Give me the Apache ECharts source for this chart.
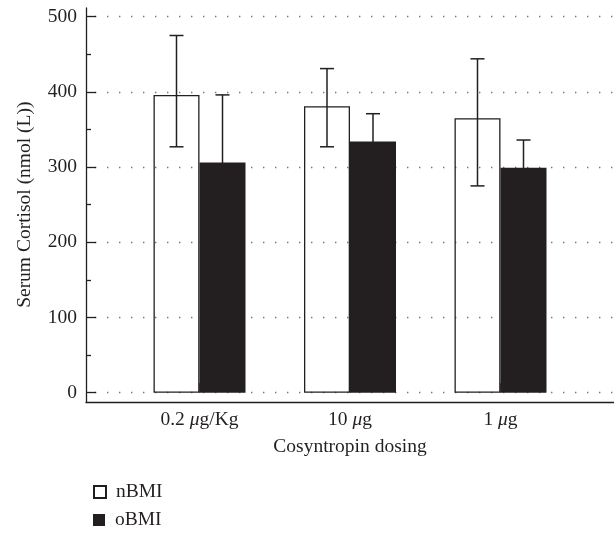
<!DOCTYPE html>
<html>
<head>
<meta charset="utf-8">
<script src="https://cdn.jsdelivr.net/npm/echarts@6/dist/echarts.min.js"></script>
<style>
html,body{margin:0;padding:0;background:#fff;}
#main{width:614px;height:533px;}
</style>
</head>
<body>
<div id="main"></div>
<script>
// ---- data ----
const categories = ['0.2 \u03bcg/Kg', '10 \u03bcg', '1 \u03bcg'];
const seriesNames = ['nBMI', 'oBMI'];
const nBMI = [396, 381, 365];
const nBMIHigh = [475, 431, 444];
const nBMILow = [327, 327, 275];
const oBMI = [306, 334, 299];
const oBMIHigh = [396, 371, 336];
const oBMILow = [216, 297, 262];
const yTicks = [0, 100, 200, 300, 400, 500];

// ---- style ----
const INK = '#231f20';
const FONT = '"Liberation Serif", "DejaVu Serif", serif';
const FS = 19.5;
const BAR_W = 46;

const chart = echarts.init(document.getElementById('main'), null, {renderer: 'canvas'});

function errorSeries(name, high, low, sign) {
  return {
    type: 'custom',
    name: name + ' error',
    xAxisIndex: 2, yAxisIndex: 2,
    z: 10,
    silent: true,
    data: categories.map((c, i) => [i, low[i], high[i]]),
    renderItem: function (params, api) {
      const idx = api.value(0);
      const top = api.coord([idx, api.value(2)]);
      const bot = api.coord([idx, api.value(1)]);
      const x = top[0] + sign * BAR_W / 2;
      const cap = 7;
      const st = {stroke: INK, lineWidth: 1.5, fill: null};
      return {
        type: 'group',
        children: [
          {type: 'line', shape: {x1: x, y1: top[1], x2: x, y2: bot[1]}, style: st},
          {type: 'line', shape: {x1: x - cap, y1: top[1], x2: x + cap, y2: top[1]}, style: st},
          {type: 'line', shape: {x1: x - cap, y1: bot[1], x2: x + cap, y2: bot[1]}, style: st}
        ]
      };
    }
  };
}

function muLabel(v) {
  // italicise the Greek mu
  return String(v).split('\u03bc').join('{mu|\u03bc}');
}

function legendFor(name, top) {
  return {
    orient: 'vertical',
    left: 93,
    top: top,
    padding: 0,
    itemWidth: 12,
    itemHeight: 12,
    icon: 'rect',
    data: [name],
    textStyle: {fontFamily: FONT, fontSize: FS, color: INK, padding: [0, 0, 0, 5]}
  };
}

const option = {
  backgroundColor: '#fff',
  animation: false,
  textStyle: {fontFamily: FONT, color: INK},
  grid: [
    {left: 86, right: 0, top: 8, bottom: 131},
    {left: 86, right: 0, top: 16.7, bottom: 140.3},
    {left: 124.25, width: 451.5, top: 16.7, bottom: 140.3}
  ],
  legend: [legendFor(seriesNames[0], 482), legendFor(seriesNames[1], 510)],
  xAxis: [
    {gridIndex: 0, type: 'value', min: 0, max: 1,
     axisLine: {show: true, lineStyle: {color: INK, width: 1.3}},
     axisTick: {show: false}, axisLabel: {show: false}, splitLine: {show: false}},
    {gridIndex: 1, type: 'value', min: 0, max: 1, show: false},
    {gridIndex: 2, type: 'category', data: categories, offset: 9.6,
     axisLine: {show: false},
     axisTick: {show: true, inside: true, length: 9.6, alignWithLabel: true, lineStyle: {color: '#555', width: 1.3}},
     axisLabel: {fontFamily: FONT, fontSize: FS, color: INK, margin: 8, interval: 0,
                 formatter: muLabel,
                 rich: {mu: {fontFamily: FONT, fontSize: FS, fontStyle: 'italic', color: INK}}},
     name: 'Cosyntropin dosing', nameLocation: 'middle', nameGap: 35,
     nameTextStyle: {fontFamily: FONT, fontSize: FS, color: INK},
     splitLine: {show: false}}
  ],
  yAxis: [
    {gridIndex: 0, type: 'value', min: 0, max: 1,
     axisLine: {show: true, lineStyle: {color: INK, width: 1.3}},
     axisTick: {show: false}, axisLabel: {show: false}, splitLine: {show: false}},
    {gridIndex: 1, type: 'value', min: yTicks[0], max: yTicks[yTicks.length - 1], interval: 100,
     axisLine: {show: false},
     axisTick: {show: true, inside: true, length: 10, lineStyle: {color: INK, width: 1.3}},
     minorTick: {show: true, splitNumber: 2, length: 5, lineStyle: {color: INK, width: 1.3}},
     axisLabel: {fontFamily: FONT, fontSize: FS, color: INK, margin: 9},
     splitLine: {show: true, lineStyle: {color: '#777', width: 1.4, type: [1.4, 10.6], dashOffset: 3}},
     name: 'Serum Cortisol (nmol (L))', nameLocation: 'middle', nameGap: 51,
     nameTextStyle: {fontFamily: FONT, fontSize: FS, color: INK}},
    {gridIndex: 2, type: 'value', min: yTicks[0], max: yTicks[yTicks.length - 1], show: false}
  ],
  series: [
    {name: seriesNames[0], type: 'bar', xAxisIndex: 2, yAxisIndex: 2, data: nBMI,
     barWidth: BAR_W, barGap: '0%',
     itemStyle: {color: 'rgba(255,255,255,0)', borderColor: INK, borderWidth: 1.3}},
    {name: seriesNames[1], type: 'bar', xAxisIndex: 2, yAxisIndex: 2, data: oBMI,
     barWidth: BAR_W, barGap: '0%',
     itemStyle: {color: INK}},
    errorSeries('nBMI', nBMIHigh, nBMILow, -1),
    errorSeries('oBMI', oBMIHigh, oBMILow, 1)
  ]
};
chart.setOption(option);
</script>
</body>
</html>
